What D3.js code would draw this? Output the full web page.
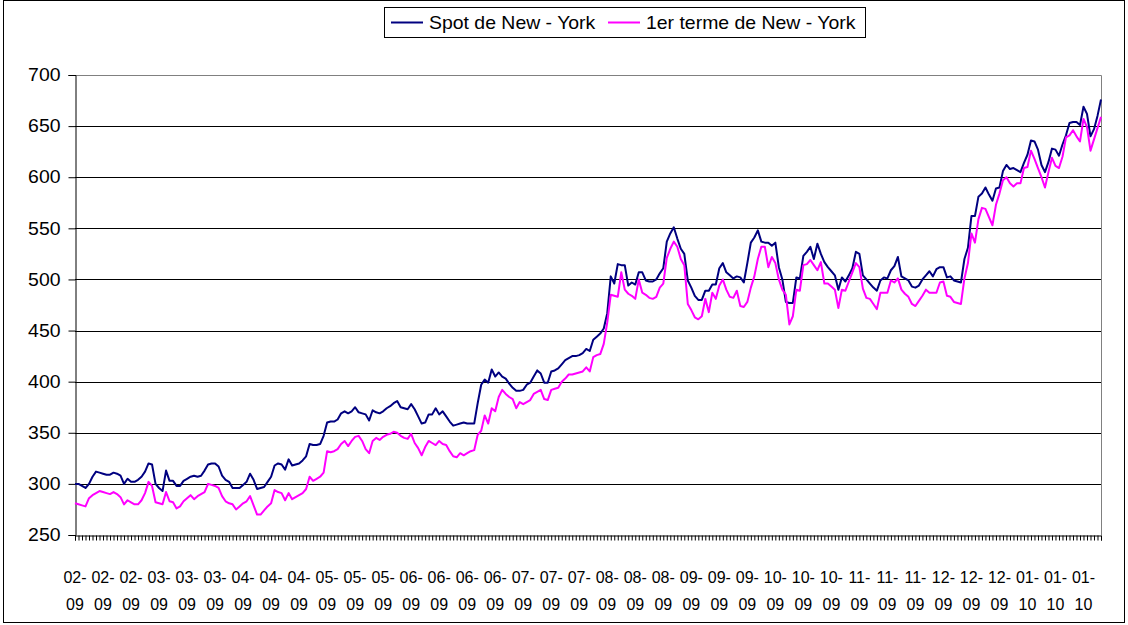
<!DOCTYPE html>
<html>
  <head>
    <meta charset="utf-8">
    <title>Spot / 1er terme New - York</title>
    <script src="https://cdn.jsdelivr.net/npm/d3@7/dist/d3.min.js"></script>
    <style>
      body { margin: 0; background: #fff; }
      text { font-family: "Liberation Sans", Arial, sans-serif; fill: #000; }
    </style>
  </head>
  <body>
    <svg width="1128" height="625" id="mainsvg"></svg>
    <script>
      // series (one value per category)
      const spot = [
        300,300,298,296,300,307,312,311,310,309,309,311,310,308,300,305,302,302,304,307,
        312,320,319,300,296,293,313,303,303,298,298,303,305,307,308,307,308,313,319,320,
        320,317,308,304,302,296,296,296,299,302,310,304,295,296,297,302,307,318,320,319,
        314,324,318,319,320,323,327,339,338,338,339,347,360,361,361,363,369,371,369,371,
        375,370,369,368,362,372,370,369,371,374,376,379,381,375,374,373,378,373,366,359,
        360,368,368,374,368,371,366,361,357,358,359,360,359,359,359,379,397,402,399,412,
        405,409,405,403,398,394,391,391,392,397,399,405,411,408,399,399,410,411,413,417,
        421,423,425,425,426,428,432,430,441,444,447,452,467,503,496,515,514,514,494,497,
        495,507,507,499,498,498,500,506,511,537,545,551,540,530,525,499,492,484,480,480,
        489,489,495,495,511,516,507,504,501,503,502,497,516,536,541,548,537,536,536,533,
        536,512,500,478,477,477,502,501,523,527,532,520,535,525,517,512,508,504,490,502,
        498,504,511,527,525,504,500,496,492,489,499,502,501,509,513,522,503,501,499,493,
        492,494,500,504,508,503,510,512,512,502,503,499,498,497,520,531,562,562,581,584,
        590,583,577,589,590,606,612,608,609,607,605,614,622,636,635,627,612,605,615,628,
        627,621,632,641,653,654,654,651,669,662,640,647,660,676
      ];
      const terme = [
        281,280,279,278,286,289,291,293,292,291,290,292,290,287,280,284,282,280,280,284,
        291,302,298,282,281,280,292,283,282,276,278,283,286,289,285,288,290,292,300,299,
        298,296,288,283,281,280,275,278,281,283,288,279,270,270,274,278,281,294,292,291,
        284,291,285,287,289,291,295,307,303,305,307,311,332,331,332,334,339,342,337,342,
        346,347,342,334,330,342,345,343,346,348,349,351,350,347,345,344,349,340,335,328,
        336,342,340,338,342,339,338,332,327,326,330,328,330,332,333,348,352,367,359,374,
        371,385,392,388,385,383,374,380,378,380,382,388,390,392,383,382,392,393,394,400,
        403,407,407,408,409,410,414,410,424,426,427,437,458,485,484,483,507,490,486,484,
        481,500,487,485,482,481,483,492,496,521,530,537,532,520,514,476,470,463,461,464,
        481,468,487,481,494,500,490,483,482,489,474,473,478,492,503,520,532,532,512,522,
        516,500,490,485,456,464,490,489,514,515,519,514,509,517,496,496,493,490,472,490,
        489,498,507,516,512,491,482,481,476,471,487,487,487,499,497,501,490,486,483,476,
        474,479,484,490,487,487,487,497,498,484,483,478,477,476,501,516,545,536,559,570,
        569,561,553,573,584,597,600,594,591,594,594,609,610,626,618,609,600,590,605,619,
        611,609,620,639,641,646,640,635,657,649,626,637,648,659
      ];
      const seriesNames = ['Spot de New - York', '1er terme de New - York'];
      const seriesColors = ['#000080', '#ff00ff'];

      // category labels, one every 8 categories
      const tickLabels = [
        '02-09','02-09','02-09','03-09','03-09','03-09','04-09','04-09','04-09',
        '05-09','05-09','05-09','06-09','06-09','06-09','06-09','07-09','07-09','07-09',
        '08-09','08-09','08-09','09-09','09-09','09-09','10-09','10-09','10-09',
        '11-09','11-09','11-09','12-09','12-09','12-09','01-10','01-10','01-10'
      ];
      const labelStep = 8;
      const yTicks = [250, 300, 350, 400, 450, 500, 550, 600, 650, 700];

      const svg = d3.select('#mainsvg');
      const plot = {left: 75, right: 1101, top: 75, bottom: 535};
      const n = spot.length;
      const stretch = 1.08;   // the source picture is a bit wider than tall

      // outer frame
      svg.append('rect')
        .attr('x', 3.5).attr('y', 0.5)
        .attr('width', 1121).attr('height', 622)
        .attr('fill', 'none').attr('stroke', '#000').attr('stroke-width', 1);

      const xScale = d3.scaleLinear().domain([0, n - 1]).range([plot.left, plot.right]);
      const yScale = d3.scaleLinear().domain([250, 700]).range([plot.bottom, plot.top]);

      // gridlines
      svg.append('g').selectAll('line').data(yTicks.filter(d => d > 250 && d < 700)).join('line')
        .attr('x1', plot.left).attr('x2', plot.right)
        .attr('y1', d => Math.round(yScale(d)) + 0.5).attr('y2', d => Math.round(yScale(d)) + 0.5)
        .attr('stroke', '#000').attr('stroke-width', 1);

      // plot area top/right border
      svg.append('path')
        .attr('d', `M${plot.left},${plot.top + 0.5}H${plot.right + 0.5}V${plot.bottom}`)
        .attr('fill', 'none').attr('stroke', '#808080').attr('stroke-width', 1);

      // y axis
      const yAxis = d3.axisLeft(yScale).tickValues(yTicks).tickSize(7).tickPadding(8);
      const yg = svg.append('g').attr('transform', `translate(${plot.left + 0.5},0)`).call(yAxis);
      yg.select('.domain').attr('stroke', '#000');
      yg.selectAll('.tick line').attr('stroke', '#000');
      yg.selectAll('.tick text')
        .attr('font-size', 18)
        .attr('font-family', '"Liberation Sans", Arial, sans-serif')
        .attr('transform', `translate(-15,0) scale(${stretch},1) translate(15,0)`);

      // x axis: one tick per category
      const xAxis = d3.axisBottom(xScale).tickValues(d3.range(n)).tickSize(5).tickFormat('');
      const xg = svg.append('g').attr('transform', `translate(0,${plot.bottom + 0.5})`).call(xAxis);
      xg.select('.domain').attr('stroke', '#000');
      xg.selectAll('.tick line').attr('stroke', '#000');

      // two-line category labels
      const lab = svg.append('g').selectAll('text').data(tickLabels).join('text')
        .attr('text-anchor', 'middle')
        .attr('font-size', 16)
        .attr('transform', (d, k) => `translate(${xScale(k * labelStep)},0)`);
      lab.append('tspan').attr('x', 0).attr('y', 583).text(d => d.split('-')[0] + '-');
      lab.append('tspan').attr('x', 0).attr('y', 610).text(d => d.split('-')[1]);

      // lines
      const line = d3.line().x((d, i) => xScale(i)).y(d => yScale(d));
      [spot, terme].forEach((s, k) => {
        svg.append('path').datum(s)
          .attr('d', line)
          .attr('fill', 'none')
          .attr('stroke', seriesColors[k])
          .attr('stroke-width', 2)
          .attr('stroke-linejoin', 'round');
      });

      // legend
      const legend = svg.append('g');
      legend.append('rect')
        .attr('x', 384.5).attr('y', 7.5).attr('width', 481).attr('height', 30)
        .attr('fill', '#fff').attr('stroke', '#000');
      const legX = [391, 608];
      seriesNames.forEach((name, k) => {
        legend.append('line')
          .attr('x1', legX[k]).attr('x2', legX[k] + 32)
          .attr('y1', 22.5).attr('y2', 22.5)
          .attr('stroke', seriesColors[k]).attr('stroke-width', 2);
        legend.append('text')
          .attr('font-size', 18)
          .attr('transform', `translate(${legX[k] + 38},29) scale(${stretch},1)`)
          .text(name);
      });
    </script>
  </body>
</html>
